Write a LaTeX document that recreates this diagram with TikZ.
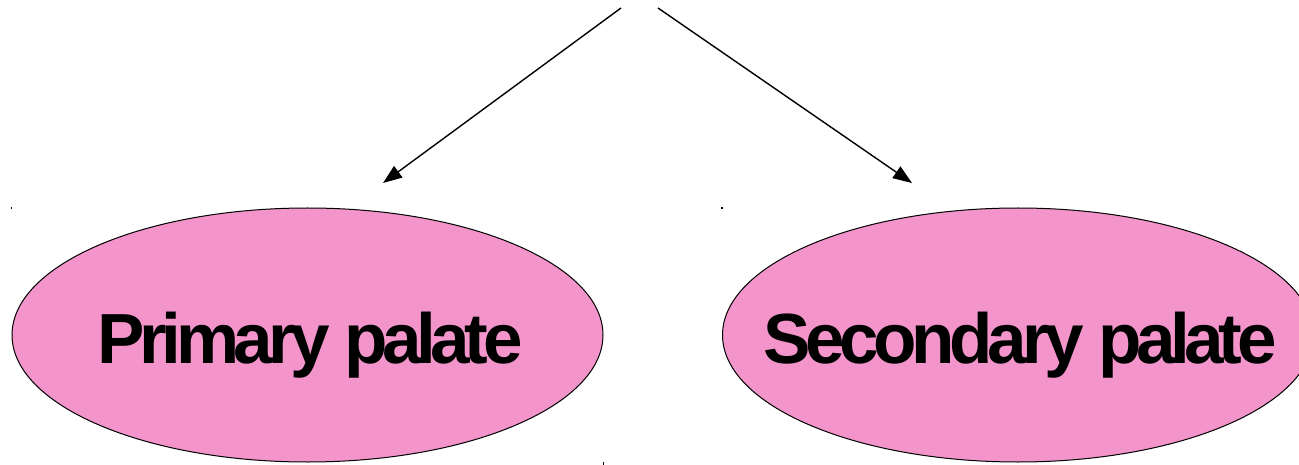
\documentclass[tikz,border=0pt]{standalone}
\usepackage{fontspec}
\setmainfont{Liberation Sans}
\newfontfamily\palatefont[LetterSpace=-7.5]{Liberation Sans}
\usetikzlibrary{shapes.geometric,arrows.meta}
\definecolor{palatepink}{RGB}{243,149,203}
\tikzset{
  palate/.style={ellipse, draw=black, line width=1pt, fill=palatepink,
    minimum width=591pt, minimum height=254pt, inner sep=0pt},
  palatetext/.style={anchor=base, inner sep=0pt,
    font=\palatefont\bfseries\fontsize{71}{80}\selectfont},
  branch/.style={draw=black, line width=1.4pt,
    -{Triangle[length=19pt,width=14pt]}},
  tick/.style={fill=black}
}
\begin{document}
\begin{tikzpicture}[x=1pt,y=-1pt]
  \useasboundingbox (0,0) rectangle (1299,465);
  \fill[white] (0,0) rectangle (1299,465);

  % the two palate ellipses
  \node[palate] (prim) at (307.5,335) {};
  \node[palate] (sec)  at (1018,335) {};
  \node[palatetext] (primtext) at (310,363) {Primary palate};
  \node[palatetext] (sectext)  at (1020,363) {Secondary palate};

  % branching arrows
  \coordinate (srcl) at (621,8);
  \coordinate (srcr) at (658,8);
  \coordinate (tipl) at (383,183);
  \coordinate (tipr) at (912,183);
  \draw[branch] (srcl) -- (tipl);
  \draw[branch] (srcr) -- (tipr);

  % small corner marks
  \fill[tick] (10.5,207) rectangle (12,209.5);
  \fill[tick] (721,207) rectangle (722.5,209);
  \fill[tick] (602.5,462) rectangle (604,465);
\end{tikzpicture}
\end{document}
